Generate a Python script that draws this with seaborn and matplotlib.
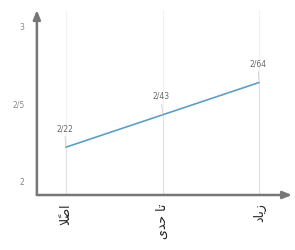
import matplotlib
matplotlib.use("Agg")
import matplotlib.pyplot as plt
import seaborn as sns
import pandas as pd

# Persian labels (presentation forms, visual order for matplotlib)
categories = ["\uFEFC\u064B\uFEBB\uFE8D",          # اصلاً
              "\uFBFC\uFEAA\uFEA3 \uFE8E\uFE97",   # تا حدی
              "\uFEA9\uFE8E\uFBFE\uFEAF"]          # زیاد
values = [2.22, 2.43, 2.64]
value_labels = ["2/22", "2/43", "2/64"]
yticks = [2, 2.5, 3]
ytick_labels = ["2", "2/5", "3"]

sns.set_theme(style="white")
plt.rcParams['font.family'] = ['DejaVu Sans']

fig = plt.figure(figsize=(2.95, 2.5), dpi=100)
ax = fig.add_axes([0.125, 0.22, 0.865, 0.74])

df = pd.DataFrame({"cat": categories, "val": values})
sns.lineplot(data=df, x="cat", y="val", ax=ax, color="#5b9fc6", linewidth=1.2, sort=False)

ax.set_xlim(-0.30, 2.34)
ax.set_ylim(1.91, 3.11)

for i, (v, lab) in enumerate(zip(values, value_labels)):
    ax.axvline(i, color="#f2f2f2", linewidth=0.8, zorder=0)
    ax.plot([i, i], [1.91, v], color="#e2e2e2", linewidth=0.8, zorder=1)
    ax.annotate(lab, xy=(i, v), xytext=(-1, 10), textcoords="offset points",
                ha="center", va="bottom", fontsize=5.5, color="#6a6a6a",
                arrowprops=dict(arrowstyle="-", color="#cccccc", lw=0.6, shrinkA=0, shrinkB=0))

for s in ax.spines.values():
    s.set_visible(False)

ax.annotate("", xy=(1.0, 0), xytext=(0, 0), xycoords="axes fraction",
            arrowprops=dict(arrowstyle="-|>,head_length=0.45,head_width=0.18", color="#777777", lw=1.8,
                            shrinkA=0, shrinkB=0))
ax.annotate("", xy=(0, 1.0), xytext=(0, 0), xycoords="axes fraction",
            arrowprops=dict(arrowstyle="-|>,head_length=0.45,head_width=0.18", color="#777777", lw=1.8,
                            shrinkA=0, shrinkB=0))

ax.set_yticks(yticks)
ax.set_yticklabels(ytick_labels, fontsize=5.5, color="#888888")
ax.tick_params(axis="y", length=0, pad=9)
ax.set_xticks(range(len(categories)))
ax.set_xticklabels(categories, rotation=90, fontsize=9, color="#222222")
ax.tick_params(axis="x", length=0, pad=6)
ax.set_xlabel("")
ax.set_ylabel("")
ax.grid(False)

fig.savefig("out.png", dpi=100)
